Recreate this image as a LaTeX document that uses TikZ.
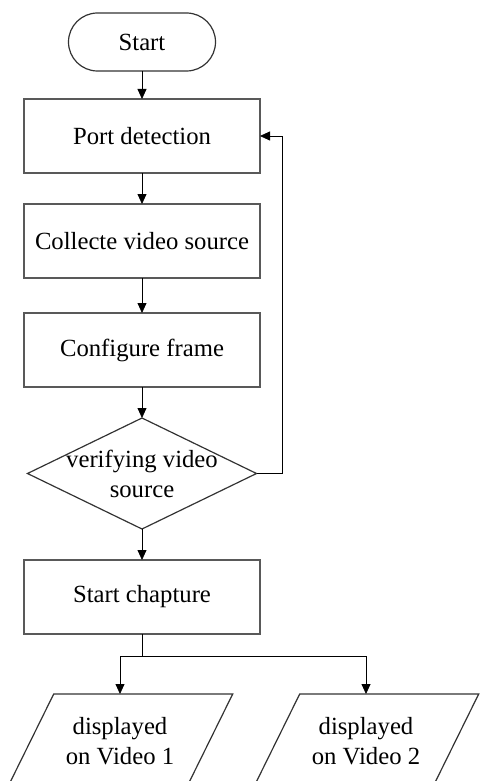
\documentclass[tikz,border=0pt]{standalone}
\usepackage{fontspec}
\setmainfont{Liberation Serif}
\usetikzlibrary{arrows.meta, positioning, shapes.geometric}

\begin{document}
\begin{tikzpicture}[
    ->,  % every connector is directed
    >={Triangle[length=5pt, width=4.5pt]},
    node distance=15.5pt, % gap between two steps of the flow
    every node/.style={font={\fontsize{12.35pt}{15pt}\selectfont}},
    process/.style={draw=black!65, line width=0.6pt, minimum width=118pt, minimum height=37pt, inner sep=0pt, outer sep=0pt},
    terminal/.style={draw=black!80, line width=0.6pt, rounded corners=14.5pt, minimum width=73.5pt, minimum height=29pt, outer sep=0pt},
    decision/.style={diamond, draw=black!80, line width=0.6pt, minimum width=114.5pt, minimum height=55.5pt, inner sep=0pt, outer sep=0pt},
    io/.style={minimum width=89.5pt, minimum height=47pt, align=center, inner sep=0pt, outer sep=0pt,
      append after command={\pgfextra{\draw[-, draw=black!80, line width=0.6pt]
        ([xshift=11.6pt]\tikzlastnode.north west) -- ([xshift=11.6pt]\tikzlastnode.north east) --
        ([xshift=-11.6pt]\tikzlastnode.south east) -- ([xshift=-11.6pt]\tikzlastnode.south west) -- cycle;}}}
  ]

  \useasboundingbox (0,0) rectangle (239.5pt,-390.5pt);

  \node[terminal] (start) at (71pt,-21pt) {Start};
  \node[process, below=14pt of start] (port) {Port detection};
  \node[process, below=of port] (collect) {Collecte video source};
  \node[process, below=17.5pt of collect] (config) {Configure frame};
  \node[decision, below=of config, label={[align=center]center:verifying video\\source}] (verify) {};
  \node[process, below=of verify] (capture) {Start chapture};
  % the two outputs run past the lower edge
  \node[io, below=30pt of capture, xshift=-11pt] (video1) {displayed\\on Video 1};
  \node[io, below=30pt of capture, xshift=112pt] (video2) {displayed\\on Video 2};

  \draw (start) -- (port);
  \draw (port) -- (collect);
  \draw (collect) -- (config);
  \draw (config) -- (verify);
  \draw (verify) -- (capture);
  \draw (verify.east) -- ++(13pt,0) |- (port.east);
  \draw[-] (capture.south) -- ++(0,-11pt) coordinate (split);
  \draw (split) -| (video1);
  \draw (split) -| (video2);

\end{tikzpicture}
\end{document}
